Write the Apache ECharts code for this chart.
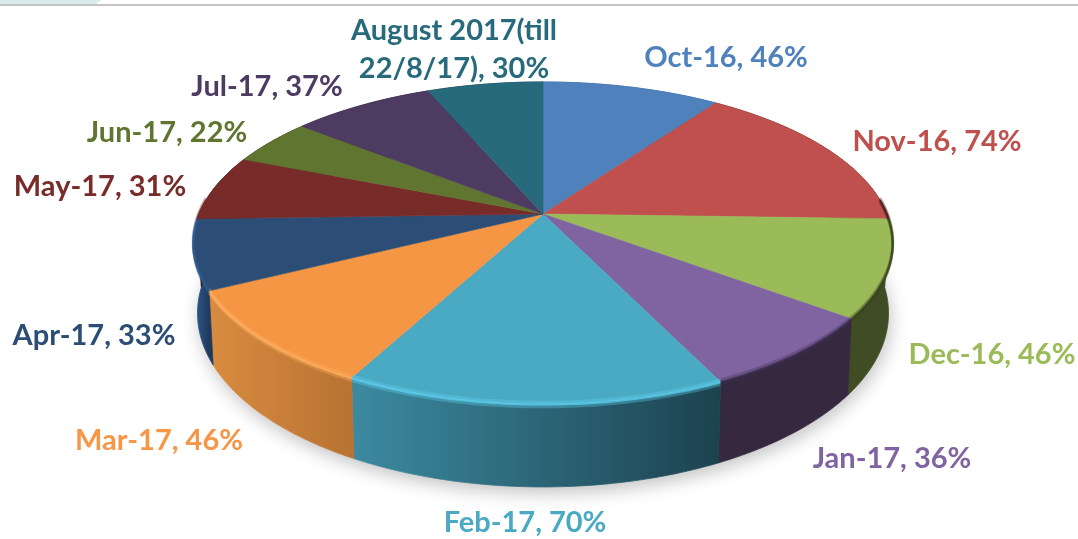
<!DOCTYPE html>
<html>
<head>
<meta charset="utf-8">
<style>
  html, body { margin: 0; padding: 0; background: #fff; }
  #chart { width: 1078px; height: 539px; }
</style>
</head>
<body>
<div id="chart"></div>
<script src="https://cdn.jsdelivr.net/npm/echarts@6/dist/echarts.min.js"></script>
<script>
// chart values
const months = ["Oct-16", "Nov-16", "Dec-16", "Jan-17", "Feb-17", "Mar-17", "Apr-17", "May-17", "Jun-17", "Jul-17", "August 2017(till\n22/8/17)"];
const percents = [46, 74, 46, 36, 70, 46, 33, 31, 22, 37, 30];

// styling
const topColors = ["#4f81bd", "#c0504d", "#9bbb59", "#8064a2", "#4aa9c3", "#f49644", "#2c4d75", "#772c2a", "#5f7530", "#4d3b62", "#276a7c"];
const wallLeft = ["#3a5f8c", "#5e2725", "#3f4c24", "#35283f", "#3c8aa1", "#d98c40", "#2f5d92", "#3a1615", "#2f3a18", "#261d31", "#133540"];
const wallRight = ["#3a5f8c", "#5e2725", "#3f4c24", "#35283f", "#1c424f", "#b87232", "#1f3a5c", "#3a1615", "#2f3a18", "#261d31", "#133540"];
const bevelColors = ["#4f81bd", "#4a1f1d", "#38441f", "#3b2d4c", "#5fd0ee", "#ffb060", "#305a8c", "#772c2a", "#5f7530", "#4d3b62", "#276a7c"];
const labelColors = ["#4f81bd", "#c0504d", "#9bbb59", "#8064a2", "#4aa9c3", "#f79646", "#2c4d75", "#772c2a", "#5f7530", "#4d3b62", "#276a7c"];
const labelSpots = [[726, 58], [937, 142], [992, 355], [892, 459], [525, 523], [159, 441], [94, 336], [100, 187], [167, 133], [267, 87], [454, 50]];

// perspective of the tilted disc
const cx = 543, cy = 214, spanX = 344, spanY = 155.8, persp = 0.18, thick = 68;
const rimFrom = Math.PI * 0.47, rimTo = Math.PI * 1.53;

function project(theta, d) {
  const u = Math.sin(theta), v = -Math.cos(theta);
  const den = 1 - persp * v;
  return [cx + spanX * u / den * (1 - 0.012 * d / thick), cy + (spanY * v + d) / den];
}

function arcPoints(a0, a1, d) {
  const pts = [];
  const n = Math.max(2, Math.ceil((a1 - a0) / (Math.PI / 180)));
  for (let i = 0; i <= n; i++) pts.push(project(a0 + (a1 - a0) * i / n, d));
  return pts;
}

const total = percents.reduce((a, b) => a + b, 0);
const starts = [];
percents.reduce((sum, p, i) => { starts[i] = sum / total * Math.PI * 2; return sum + p; }, 0);

function renderSlice(params, api) {
  const i = params.dataIndex;
  const a0 = starts[i];
  const a1 = a0 + api.value(1) / total * Math.PI * 2;
  const children = [];

  if (i === 0) {
    // soft shadow below the disc
    children.push({
      type: "polygon", z2: 0,
      shape: { points: arcPoints(0, Math.PI * 2, thick) },
      style: { fill: "#fff", shadowColor: "rgba(0,0,0,0.24)", shadowBlur: 18, shadowOffsetX: 2, shadowOffsetY: 6 }
    });
  }

  // outer wall
  const upper = arcPoints(a0, a1, 0);
  const lower = arcPoints(a0, a1, thick).reverse();
  const xs = upper.map(p => p[0]);
  const wallFill = new echarts.graphic.LinearGradient(Math.min(...xs), 0, Math.max(...xs), 0, [
    { offset: 0, color: wallLeft[i] },
    { offset: 1, color: wallRight[i] }
  ], true);
  children.push({
    type: "polygon", z2: 5,
    shape: { points: upper.concat(lower) },
    style: { fill: wallFill, stroke: wallFill, lineWidth: 0.8 }
  });

  // top face
  children.push({
    type: "polygon", z2: 20,
    shape: { points: [[cx, cy]].concat(upper) },
    style: { fill: topColors[i], stroke: topColors[i], lineWidth: 0.6 }
  });

  // rounded rim, only on the front part of the edge
  const r0 = Math.max(a0, rimFrom), r1 = Math.min(a1, rimTo);
  if (r1 > r0) {
    [[-1.5, 0.35, 3], [0.5, 0.8, 2.5], [2.5, 0.35, 2.5]].forEach(r => {
      children.push({
        type: "polyline", z2: 21,
        shape: { points: arcPoints(r0, r1, r[0]) },
        style: { fill: null, stroke: bevelColors[i], lineWidth: r[2], opacity: r[1] }
      });
    });
  }

  // label
  children.push({
    type: "text", z2: 30,
    style: {
      text: months[i] + ", " + api.value(1) + "%",
      x: labelSpots[i][0], y: labelSpots[i][1],
      align: "center", verticalAlign: "middle",
      font: "700 29px Lato, 'Open Sans', sans-serif",
      lineHeight: 38,
      fill: labelColors[i]
    }
  });

  return { type: "group", children };
}

const chart = echarts.init(document.getElementById("chart"), null, { renderer: "canvas" });
chart.setOption({
  animation: false,
  backgroundColor: "#fff",
  graphic: [
    { type: "polygon", shape: { points: [[0, 0], [101, 0], [96, 4], [0, 4]] }, style: { fill: "#d9ebeb" }, silent: true },
    { type: "rect", shape: { x: 0, y: 4, width: 1078, height: 2 }, style: { fill: "#c4c4c4" }, silent: true }
  ],
  series: [{
    type: "custom",
    coordinateSystem: "none",
    data: percents.map((p, i) => [i, p]),
    renderItem: renderSlice
  }]
});
</script>
</body>
</html>
